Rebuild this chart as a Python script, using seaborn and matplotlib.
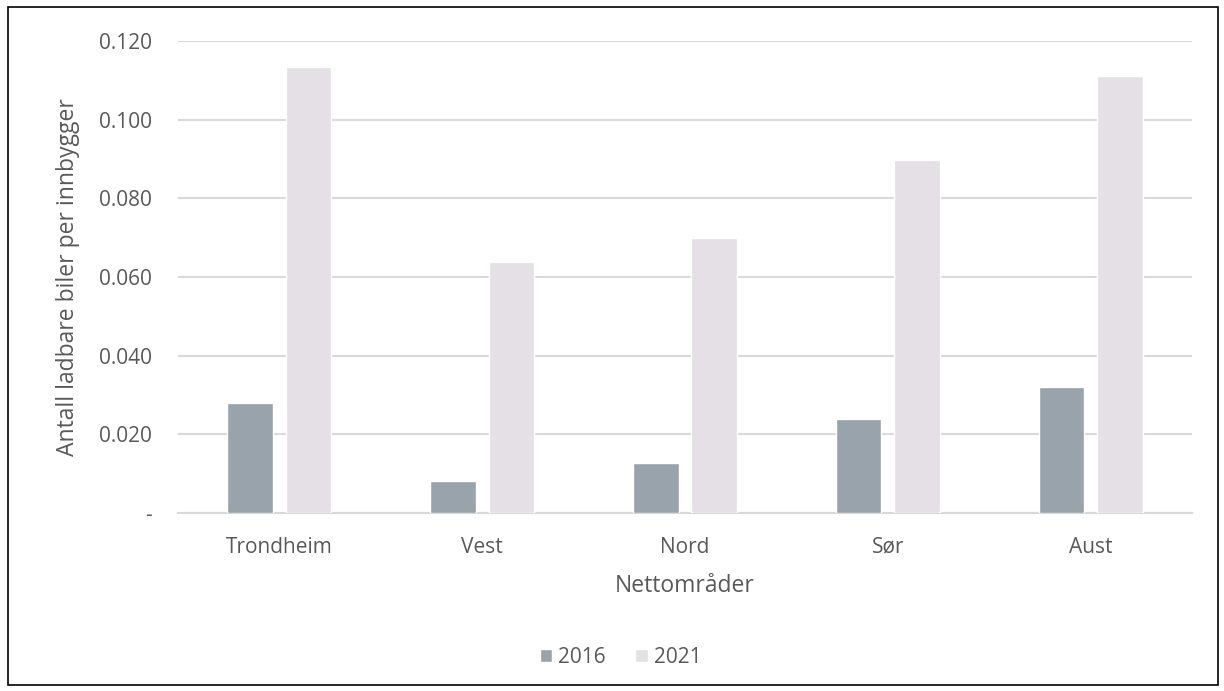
import matplotlib
matplotlib.use("Agg")
import matplotlib.pyplot as plt
import seaborn as sns
import pandas as pd
from matplotlib.patches import Rectangle
from matplotlib.ticker import FuncFormatter

regions = ["Trondheim", "Vest", "Nord", "Sør", "Aust"]
years = ["2016", "2021"]
values_2016 = [0.0280, 0.0081, 0.0127, 0.0238, 0.0320]
values_2021 = [0.1134, 0.0638, 0.0700, 0.0897, 0.1111]
yticks = [0.0, 0.02, 0.04, 0.06, 0.08, 0.10, 0.12]

df = pd.DataFrame({
    "region": regions * 2,
    "year": [years[0]] * len(regions) + [years[1]] * len(regions),
    "value": values_2016 + values_2021,
})

sns.set_theme(style="white")
plt.rcParams["font.family"] = ["Open Sans", "DejaVu Sans"]

TXT = "#595959"
GRID = "#D9D9D9"
palette = {"2016": "#98A3AC", "2021": "#E4E0E6"}

fig = plt.figure(figsize=(12.24, 6.91), dpi=100)
ax = fig.add_axes([0.1454, 0.2576, 0.974 - 0.1454, 0.9407 - 0.2576])

sns.barplot(data=df, x="region", y="value", hue="year", palette=palette,
            width=0.576, gap=0.22, saturation=1, ax=ax, zorder=3)

ax.set_ylim(0, 0.12)
ax.set_xlim(-0.5, len(regions) - 0.5)
ax.set_yticks(yticks)
ax.yaxis.set_major_formatter(FuncFormatter(lambda v, p: "-" if abs(v) < 1e-9 else f"{v:.3f}"))
ax.grid(axis="y", color=GRID, linewidth=1.5, zorder=0)
ax.set_axisbelow(True)
for s in ["top", "right", "left"]:
    ax.spines[s].set_visible(False)
ax.spines["bottom"].set_color(GRID)
ax.spines["bottom"].set_linewidth(1.5)
ax.tick_params(axis="both", length=0, labelsize=15, labelcolor=TXT)
ax.tick_params(axis="y", pad=18.5)
ax.tick_params(axis="x", pad=17)

ax.set_xlabel("Nettområder", fontsize=16.5, color=TXT, labelpad=12)
ax.set_ylabel("Antall ladbare biler per innbygger", fontsize=16.5, color=TXT, labelpad=14)

handles, labels = ax.get_legend_handles_labels()
if ax.get_legend() is not None:
    ax.get_legend().remove()
fig.legend(handles, labels, loc="center", bbox_to_anchor=(0.507, 0.049), ncol=2,
           frameon=False, fontsize=15, labelcolor=TXT, handlelength=0.6,
           handleheight=0.6, handletextpad=0.3, columnspacing=1.4)

fig.add_artist(Rectangle((0.0065, 0.008), 0.9885, 0.982, transform=fig.transFigure,
                         fill=False, edgecolor="black", linewidth=1.2))

fig.savefig("out.png", dpi=100)
